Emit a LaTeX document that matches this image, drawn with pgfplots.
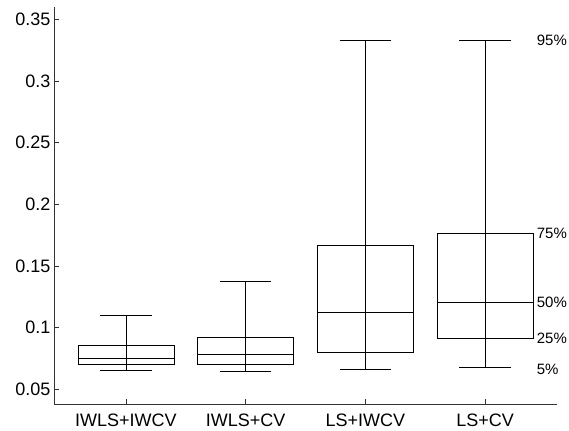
\documentclass[border=0pt]{standalone}
\usepackage{pgfplots}
\pgfplotsset{compat=1.18}
\usepackage{fontspec}
\setmainfont{Liberation Sans}
\begin{document}
\begin{tikzpicture}
\begin{axis}[
  scale only axis,
  width=503pt, height=397pt,
  xmin=0.4, xmax=4.6,
  ymin=0.038, ymax=0.36,
  axis lines=left,
  axis line style={-, black!80, line width=0.6pt},
  tick align=inside,
  major tick length=5pt,
  tick style={black!80, line width=0.6pt},
  xtick={1,2,3,4},
  xticklabels={IWLS+IWCV, IWLS+CV, LS+IWCV, LS+CV},
  ytick={0.05,0.1,0.15,0.2,0.25,0.3,0.35},
  yticklabels={0.05,0.1,0.15,0.2,0.25,0.3,0.35},
  ticklabel style={font=\fontsize{18}{22}\selectfont},
  xticklabel style={yshift=-6pt},
  /pgf/number format/assume math mode=true,
  clip=false,
  cycle list={{black, solid, line width=0.7pt, mark=none}},
]
% --- IWLS+IWCV: 5%=0.0652, 25%=0.0700, 50%=0.0751, 75%=0.0854, 95%=0.1100
\addplot coordinates {(1,0.0652) (1,0.1100)};
\addplot coordinates {(0.6,0.0700) (1.4,0.0700) (1.4,0.0854) (0.6,0.0854) (0.6,0.0700)};
\addplot coordinates {(0.6,0.0751) (1.4,0.0751)};
\addplot coordinates {(0.785,0.0652) (1.215,0.0652)};
\addplot coordinates {(0.785,0.1100) (1.215,0.1100)};
% --- IWLS+CV: 0.0643, 0.0700, 0.0786, 0.0924, 0.1375
\addplot coordinates {(2,0.0643) (2,0.1375)};
\addplot coordinates {(1.6,0.0700) (2.4,0.0700) (2.4,0.0924) (1.6,0.0924) (1.6,0.0700)};
\addplot coordinates {(1.6,0.0786) (2.4,0.0786)};
\addplot coordinates {(1.785,0.0643) (2.215,0.0643)};
\addplot coordinates {(1.785,0.1375) (2.215,0.1375)};
% --- LS+IWCV: 0.0660, 0.0797, 0.1126, 0.1670, 0.3330
\addplot coordinates {(3,0.0660) (3,0.3330)};
\addplot coordinates {(2.6,0.0797) (3.4,0.0797) (3.4,0.1670) (2.6,0.1670) (2.6,0.0797)};
\addplot coordinates {(2.6,0.1126) (3.4,0.1126)};
\addplot coordinates {(2.785,0.0660) (3.215,0.0660)};
\addplot coordinates {(2.785,0.3330) (3.215,0.3330)};
% --- LS+CV: 0.0678, 0.0911, 0.1207, 0.1767, 0.3330
\addplot coordinates {(4,0.0678) (4,0.3330)};
\addplot coordinates {(3.6,0.0911) (4.4,0.0911) (4.4,0.1767) (3.6,0.1767) (3.6,0.0911)};
\addplot coordinates {(3.6,0.1207) (4.4,0.1207)};
\addplot coordinates {(3.785,0.0678) (4.215,0.0678)};
\addplot coordinates {(3.785,0.3330) (4.215,0.3330)};
\begin{scope}[every node/.style={anchor=west, inner sep=0pt, font=\fontsize{15}{18}\selectfont}]
\node at (axis cs:4.43,0.3330) {95\%};
\node at (axis cs:4.43,0.1767) {75\%};
\node at (axis cs:4.43,0.1207) {50\%};
\node at (axis cs:4.43,0.0911) {25\%};
\node at (axis cs:4.43,0.0665) {5\%};
\end{scope}
\end{axis}
\path (current axis.south west) ++(-54pt,-26pt) coordinate (bbA);
\path (current axis.north east) ++(12pt,7pt) coordinate (bbB);
\path (bbA) rectangle (bbB);
\end{tikzpicture}
\end{document}
